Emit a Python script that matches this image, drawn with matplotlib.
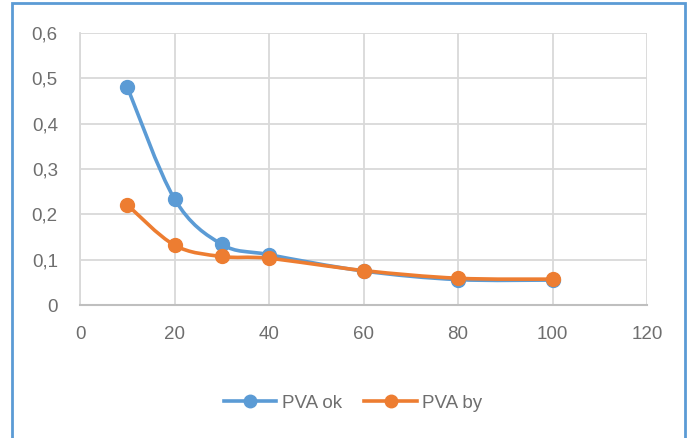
import matplotlib.pyplot as plt
from matplotlib.path import Path
from matplotlib.patches import PathPatch, Rectangle
from matplotlib import font_manager
import numpy as np

names = {f.name for f in font_manager.fontManager.ttflist}
font = 'Liberation Sans Narrow' if 'Liberation Sans Narrow' in names else 'Liberation Sans'
plt.rcParams['font.family'] = [font, 'DejaVu Sans']

x = [10, 20, 30, 40, 60, 80, 100]
pva_ok = [0.481, 0.234, 0.134, 0.111, 0.075, 0.056, 0.055]
pva_by = [0.221, 0.132, 0.107, 0.103, 0.076, 0.059, 0.057]

blue = '#5B9BD5'
orange = '#ED7D31'
grey = '#6E6E6E'


def smooth_path(xs, ys):
    # excel-like smoothed line as cubic bezier segments
    p = np.column_stack([xs, ys]).astype(float)
    verts = [p[0]]
    codes = [Path.MOVETO]
    n = len(p)
    for i in range(n - 1):
        p0 = p[i - 1] if i > 0 else p[i]
        p3 = p[i + 2] if i + 2 < n else p[i + 1]
        c1 = p[i] + (p[i + 1] - p0) / 6
        c2 = p[i + 1] - (p3 - p[i]) / 6
        verts += [c1, c2, p[i + 1]]
        codes += [Path.CURVE4] * 3
    return Path(verts, codes)


fig = plt.figure(figsize=(6.91, 4.38), dpi=100)
ax = fig.add_axes([80 / 691, 1 - 305 / 438, 567 / 691, 272 / 438])

for ys, c, lab in [(pva_ok, blue, 'PVA ok'), (pva_by, orange, 'PVA by')]:
    ax.add_patch(PathPatch(smooth_path(x, ys), fill=False, edgecolor=c, lw=2.6,
                           capstyle='round', zorder=3))
    ax.plot(x, ys, ls='none', marker='o', ms=10, color=c, zorder=4)
    ax.plot([], [], color=c, lw=2.6, marker='o', ms=9, label=lab)

ax.set_xlim(0, 120)
ax.set_ylim(0, 0.6)
ax.set_xticks(np.arange(0, 121, 20))
ax.set_yticks(np.arange(0, 0.61, 0.1))
ax.set_yticklabels(['0', '0,1', '0,2', '0,3', '0,4', '0,5', '0,6'])
ax.grid(True, color='#D9D9D9', lw=1.3)
ax.set_axisbelow(True)
for s in ['top', 'right']:
    ax.spines[s].set_visible(False)
ax.spines['left'].set_color('#D9D9D9')
ax.spines['bottom'].set_color('#BFBFBF')
ax.spines['left'].set_linewidth(1.3)
ax.spines['bottom'].set_linewidth(1.5)
ax.tick_params(length=0, labelsize=13.5, labelcolor=grey)
ax.tick_params(axis='y', pad=16)
ax.tick_params(axis='x', pad=15)

fig.legend(loc='center', bbox_to_anchor=(353 / 691, 1 - 403 / 438), ncol=2,
           frameon=False, fontsize=13.5, labelcolor=grey, handlelength=2.8,
           handletextpad=0.3, columnspacing=1.2)

fig.patches.append(Rectangle((12 / 691, -0.05), 673 / 691, 1.05 - 3 / 438,
                             transform=fig.transFigure, fill=False,
                             edgecolor=blue, lw=2))

fig.savefig('out.png', dpi=100)
